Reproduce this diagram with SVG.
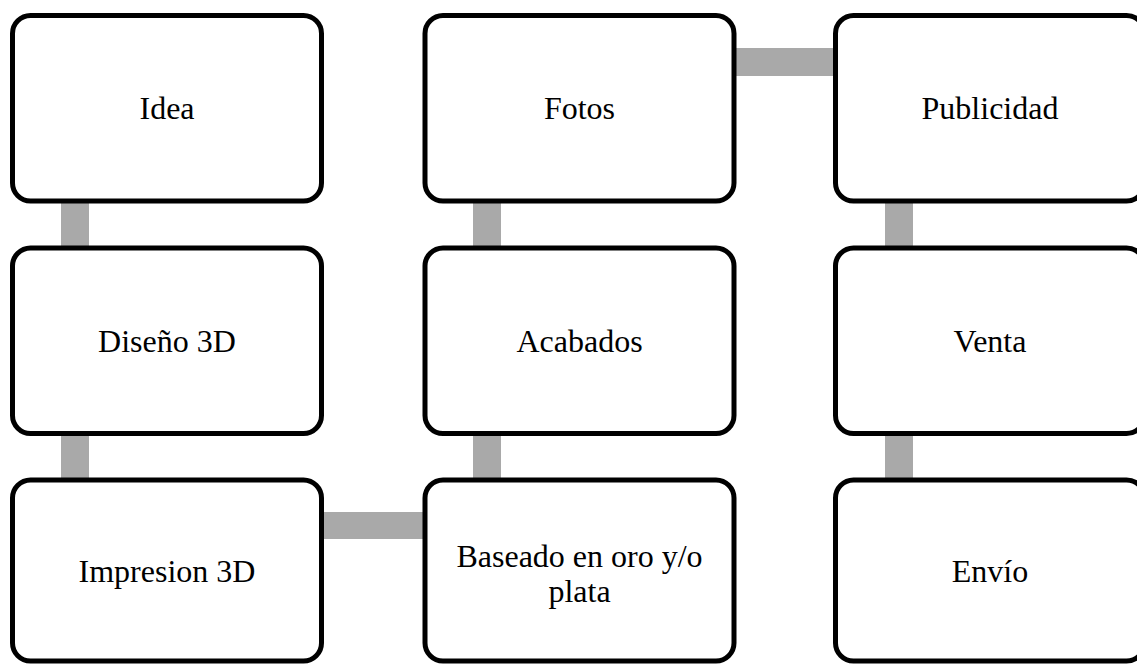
<svg xmlns="http://www.w3.org/2000/svg" width="1137" height="664" viewBox="0 0 1137 664">
<style>
.box{fill:#ffffff;stroke:#000000;stroke-width:5}
.conn{fill:#A9A9A9;stroke:none}
.lbl{font-family:"Liberation Serif","Times New Roman",serif;font-size:32px;fill:#000000;text-anchor:middle}
</style>
<rect x="0" y="0" width="1137" height="664" fill="#ffffff"/>
<g id="connectors">
<rect class="conn" x="61" y="195" width="28" height="59"/>
<rect class="conn" x="61" y="428" width="28" height="58"/>
<rect class="conn" x="318" y="512" width="110" height="27"/>
<rect class="conn" x="473" y="428" width="28" height="58"/>
<rect class="conn" x="473" y="195" width="28" height="59"/>
<rect class="conn" x="730" y="48" width="110" height="28"/>
<rect class="conn" x="885" y="195" width="28" height="59"/>
<rect class="conn" x="885" y="428" width="28" height="58"/>
</g>
<g id="node-idea">
<rect class="box" x="12.5" y="15.5" width="309" height="185.5" rx="18"/>
<text class="lbl" x="167" y="119">Idea</text>
</g>
<g id="node-diseno">
<rect class="box" x="12.5" y="248" width="309" height="185.5" rx="18"/>
<text class="lbl" x="167" y="352">Diseño 3D</text>
</g>
<g id="node-impresion">
<rect class="box" x="12.5" y="480" width="309" height="181" rx="18"/>
<text class="lbl" x="167" y="582">Impresion 3D</text>
</g>
<g id="node-baseado">
<rect class="box" x="425" y="480" width="309" height="181" rx="18"/>
<text class="lbl" x="579.5" y="567">Baseado en oro y/o</text>
<text class="lbl" x="579.5" y="602">plata</text>
</g>
<g id="node-acabados">
<rect class="box" x="425" y="248" width="309" height="185.5" rx="18"/>
<text class="lbl" x="579.5" y="352">Acabados</text>
</g>
<g id="node-fotos">
<rect class="box" x="425" y="15.5" width="309" height="185.5" rx="18"/>
<text class="lbl" x="579.5" y="119">Fotos</text>
</g>
<g id="node-publicidad">
<rect class="box" x="835.5" y="15.5" width="309" height="185.5" rx="18"/>
<text class="lbl" x="990" y="119">Publicidad</text>
</g>
<g id="node-venta">
<rect class="box" x="835.5" y="248" width="309" height="185.5" rx="18"/>
<text class="lbl" x="990" y="352">Venta</text>
</g>
<g id="node-envio">
<rect class="box" x="835.5" y="480" width="309" height="181" rx="18"/>
<text class="lbl" x="990" y="582">Envío</text>
</g>
</svg>
